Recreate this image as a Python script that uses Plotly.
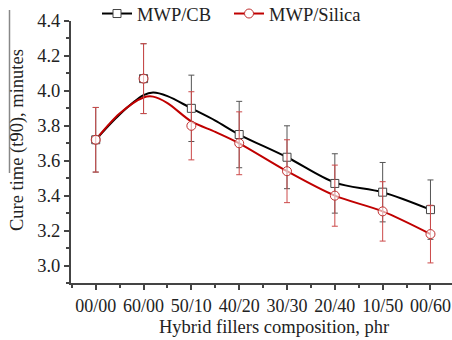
import plotly.graph_objects as go

categories = ["00/00", "60/00", "50/10", "40/20", "30/30", "20/40", "10/50", "00/60"]
cb_values = [3.72, 4.07, 3.90, 3.75, 3.62, 3.47, 3.42, 3.32]
cb_errors = [0.185, 0.20, 0.19, 0.19, 0.18, 0.17, 0.17, 0.17]
silica_values = [3.72, 4.07, 3.80, 3.70, 3.54, 3.40, 3.31, 3.18]
silica_errors = [0.185, 0.20, 0.195, 0.18, 0.18, 0.175, 0.17, 0.165]
# smoothed fit curves (x in category index units)
fit_x = [0, 0.5, 1, 1.2, 1.5, 2, 2.5, 3, 4, 5, 6, 7]
cb_fit = [3.72, 3.865, 3.975, 3.99, 3.97, 3.90, 3.83, 3.75, 3.62, 3.475, 3.42, 3.32]
silica_fit = [3.72, 3.87, 3.962, 3.967, 3.93, 3.825, 3.765, 3.70, 3.54, 3.40, 3.31, 3.18]

xpos = list(range(len(categories)))
BLACK = "#000000"
RED = "#c00000"
FONT = "Liberation Serif"
TXT = "#222222"

W, H = 452, 340
PW, PH = 381, 262  # plot area size

fig = go.Figure()
fig.add_trace(go.Scatter(x=fit_x, y=cb_fit, mode="lines",
                         line=dict(color=BLACK, width=2, shape="spline", smoothing=0.9),
                         showlegend=False, hoverinfo="skip"))
fig.add_trace(go.Scatter(x=fit_x, y=silica_fit, mode="lines",
                         line=dict(color=RED, width=2, shape="spline", smoothing=0.9),
                         showlegend=False, hoverinfo="skip"))
fig.add_trace(go.Scatter(x=xpos, y=cb_values, mode="markers",
                         marker=dict(symbol="square", size=8, color="white", line=dict(color="#444444", width=1)),
                         error_y=dict(type="data", array=cb_errors, color="#555555", thickness=1, width=3),
                         showlegend=False))
fig.add_trace(go.Scatter(x=xpos, y=silica_values, mode="markers",
                         marker=dict(symbol="circle", size=9, color="rgba(255,255,255,0.6)",
                                     line=dict(color="#c03030", width=1)),
                         error_y=dict(type="data", array=silica_errors, color="#cc4a4a", thickness=1, width=3),
                         showlegend=False))
# legend entries
fig.add_trace(go.Scatter(x=[None], y=[None], mode="lines+markers", name="MWP/CB",
                         line=dict(color=BLACK, width=2),
                         marker=dict(symbol="square", size=8, color="white", line=dict(color="#444444", width=1))))
fig.add_trace(go.Scatter(x=[None], y=[None], mode="lines+markers", name="MWP/Silica",
                         line=dict(color=RED, width=2),
                         marker=dict(symbol="circle", size=9, color="white", line=dict(color="#c03030", width=1))))

fig.update_layout(
    width=W, height=H,
    margin=dict(l=71, r=0, t=21, b=H - 21 - PH, autoexpand=False),
    paper_bgcolor="white", plot_bgcolor="white",
    font=dict(family=FONT, size=18.5, color=TXT),
    showlegend=True,
    legend=dict(orientation="h", xref="container", yref="container", x=97 / W, xanchor="left",
                y=1 - 14 / H, yanchor="middle",
                font=dict(family=FONT, size=18.5, color=TXT), bgcolor="rgba(0,0,0,0)",
                entrywidth=87, tracegroupgap=0, itemwidth=30),
    xaxis=dict(range=[-0.517, 7.45], tickmode="array", tickvals=xpos, ticktext=categories,
               showline=True, linecolor="#444444", linewidth=2, ticks="outside", ticklen=5, tickwidth=1.5,
               tickcolor="#444444", showgrid=False, zeroline=False, automargin=False,
               minor=dict(tickmode="linear", tick0=-0.5, dtick=1, ticks="outside", ticklen=3, tickwidth=1.5,
                          tickcolor="#444444", showgrid=False),
               tickfont=dict(family=FONT, size=18, color=TXT)),
    yaxis=dict(range=[2.9, 4.4], tickmode="linear", tick0=3.0, dtick=0.2, tickformat=".1f",
               showline=True, linecolor="#444444", linewidth=2, ticks="outside", ticklen=5, tickwidth=1.5,
               tickcolor="#444444", showgrid=False, zeroline=False, automargin=False,
               minor=dict(tickmode="linear", tick0=3.0, dtick=0.1, ticks="outside", ticklen=3, tickwidth=1.5,
                          tickcolor="#444444", showgrid=False),
               tickfont=dict(family=FONT, size=18.5, color=TXT)),
    annotations=[
        dict(text="Cure time (t90), minutes", xref="paper", yref="paper", x=(17 - 71) / PW, y=(283 - 140) / PH,
             xanchor="center", yanchor="middle", textangle=-90, showarrow=False,
             font=dict(family=FONT, size=18.5, color=TXT)),
        dict(text="Hybrid fillers composition, phr", xref="paper", yref="paper", x=(274 - 71) / PW,
             y=(283 - 327) / PH, xanchor="center", yanchor="middle", showarrow=False,
             font=dict(family=FONT, size=18.5, color=TXT)),
    ],
    shapes=[dict(type="line", xref="paper", yref="paper", x0=(9.5 - 71) / PW, x1=(9.5 - 71) / PW,
                 y0=(283 - 173) / PH, y1=(283 - 10) / PH, line=dict(color="#888888", width=1.5))],
)

fig.write_html("out.html", config={"displayModeBar": False},
               post_script="document.body.style.margin='0';document.body.style.overflow='hidden';")
